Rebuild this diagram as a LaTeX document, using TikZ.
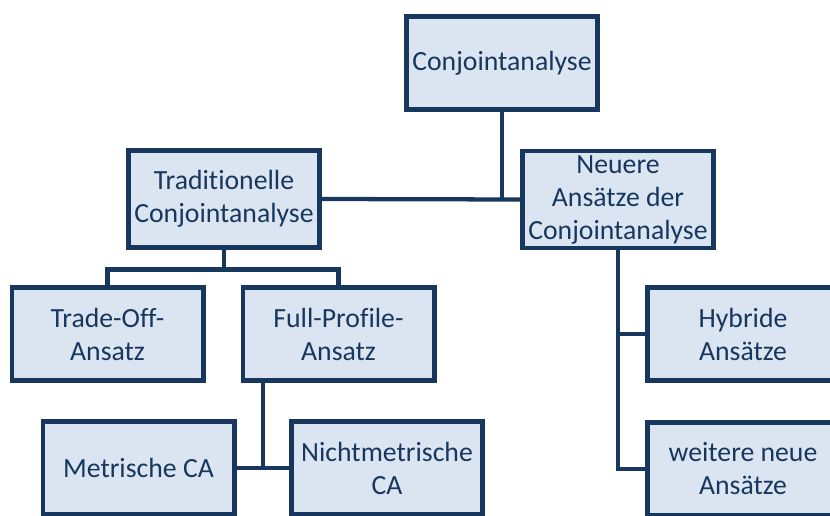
\documentclass[tikz,border=0pt]{standalone}
\usepackage{fontspec}
\setmainfont{Carlito}[Ligatures=NoCommon]
\usepackage[HTML]{xcolor}
\usepackage{tikz}
\definecolor{boxline}{HTML}{17375E}
\definecolor{boxfill}{HTML}{DBE5F1}

\begin{document}
\begin{tikzpicture}[x=0.75pt,y=-0.75pt,
  box/.style={draw=boxline,fill=boxfill,line width=3.4pt,text=boxline,align=center,
    minimum width=143.6pt,minimum height=70pt,inner sep=1pt,
    font=\fontsize{20.8}{24.75}\selectfont},
  link/.style={draw=boxline,line width=3.2pt}]
\useasboundingbox (0,0) rectangle (830,516);
\node[box] (conj) at (502,63) {Conjointanalyse};
\node[box,minimum height=73pt] (trad) at (224,199) {Traditionelle\\Conjointanalyse};
\node[box,minimum height=73pt] (neu) at (618,199.5) {Neuere\\Ans\"atze der\\Conjointanalyse};
\node[box] (trade) at (107.5,334) {Trade-Off-\\Ansatz};
\node[box] (full) at (338.5,334) {Full-Profile-\\Ansatz};
\node[box] (metr) at (138.5,468) {Metrische CA};
\node[box] (nicht) at (387,468) {Nichtmetrische\\CA};
\node[box] (hyb) at (743,334) {Hybride\\Ans\"atze};
\node[box] (weit) at (743,469) {weitere neue\\Ans\"atze};
\draw[link] (trad.east) -- (neu.west);
\draw[link] (conj.south) -- (conj.south |- trad.east);
\draw[link] (trad.south) -- ++(0,19.5) -| (trade.north);
\draw[link] (trad.south) -- ++(0,19.5) -| (full.north);
\path (metr.east) -- coordinate[midway] (mj) (nicht.west);
\draw[link] (metr.east) -- (nicht.west);
\draw[link] (mj) -- (mj |- full.south);
\draw[link] (neu.south) |- (hyb.west);
\draw[link] (neu.south) |- (weit.west);
\end{tikzpicture}
\end{document}
